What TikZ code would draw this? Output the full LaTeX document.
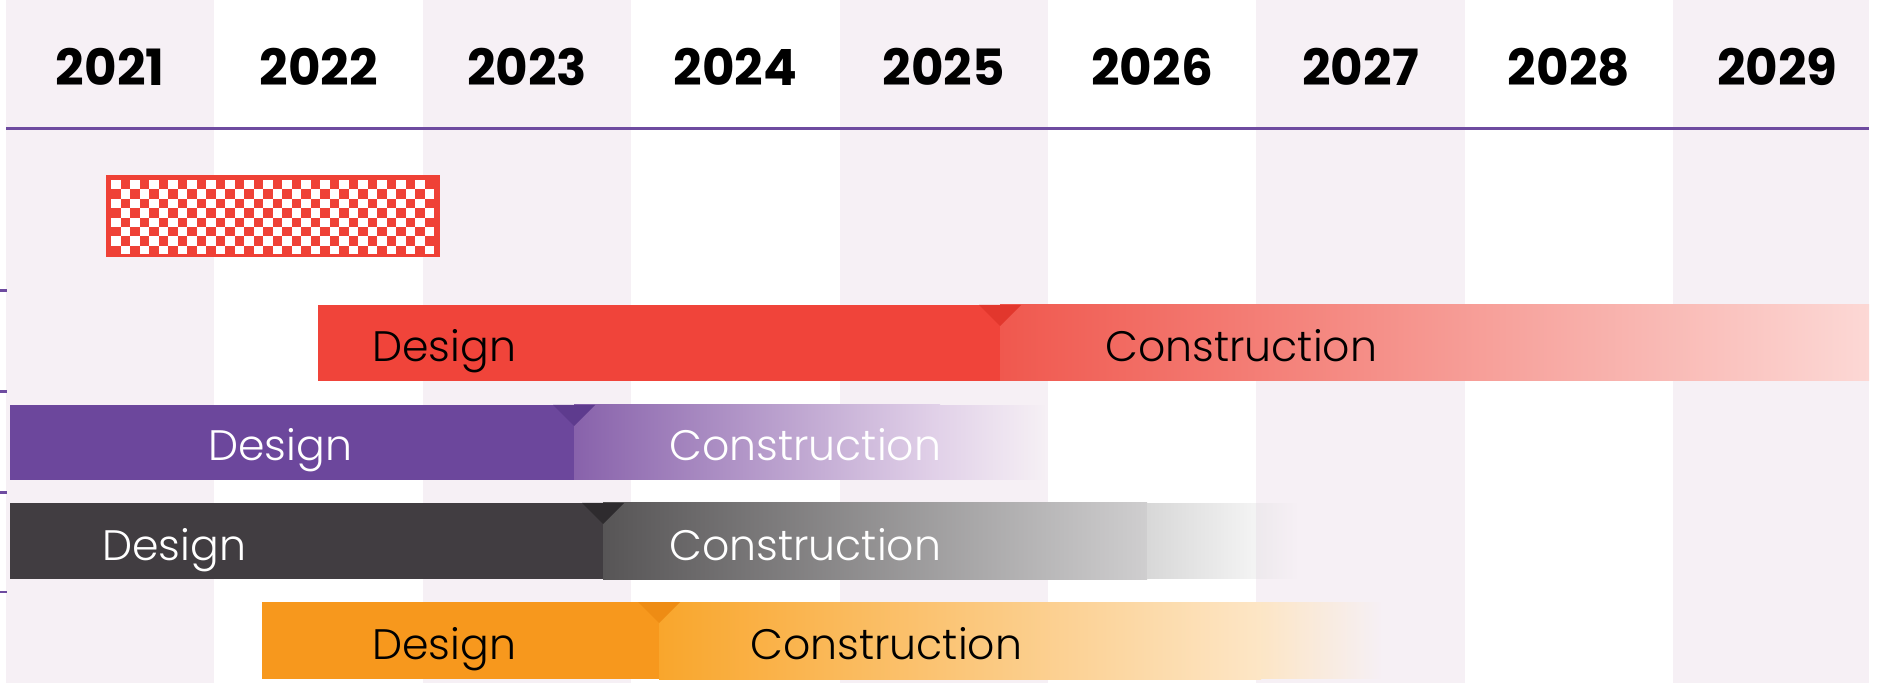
\documentclass[tikz,border=0pt]{standalone}
\usepackage{fontspec}
\setmainfont{Poppins}
\newfontfamily\lightfont{Poppins Light}
\usetikzlibrary{fadings}
\definecolor{colbg}{HTML}{F6F0F5}
\definecolor{hdrline}{HTML}{6E4BA0}
\definecolor{chkred}{HTML}{EF4136}
\definecolor{redD}{HTML}{F0443A}
\definecolor{redN}{HTML}{E2372D}
\definecolor{redC1}{HTML}{F0584E}
\definecolor{redC2}{HTML}{FCD8D5}
\definecolor{purD}{HTML}{6C479C}
\definecolor{purN}{HTML}{5E3B8E}
\definecolor{purC1}{HTML}{8862AB}
\definecolor{purC2}{HTML}{E2D2E9}
\definecolor{gryD}{HTML}{413D41}
\definecolor{gryN}{HTML}{2E2B2E}
\definecolor{gryC1}{HTML}{575556}
\definecolor{gryC2}{HTML}{CFCECF}
\definecolor{gryC3}{HTML}{D8D8D8}
\definecolor{orgD}{HTML}{F7981D}
\definecolor{orgN}{HTML}{EE8C14}
\definecolor{orgC1}{HTML}{F9A62C}
\definecolor{orgC2}{HTML}{FDE6C6}
\tikzfading[name=fadeout, left color=transparent!0, right color=transparent!100]
\tikzset{
  yearlabel/.style={font=\bfseries\fontsize{25}{30}\selectfont, inner sep=0pt, anchor=center},
  bartext/.style={font=\lightfont\fontsize{21.3}{26}\selectfont, inner sep=0pt, anchor=base west},
  hdr/.style={draw=hdrline, line width=1.3pt},
  tickmark/.style={draw=hdrline, line width=1.2pt},
}
\begin{document}
\begin{tikzpicture}[x=0.5pt,y=-0.5pt]
\useasboundingbox (0,0) rectangle (1883,683);
\fill[white] (0,0) rectangle (1883,683);
% alternating columns
\foreach \i in {0,2,4,6}{
  \fill[colbg] ({6+208.4*\i},0) rectangle ({6+208.4*(\i+1)},683);
}
\fill[colbg] (1673,0) rectangle (1869,683);
% years
\foreach \yr [count=\i from 0] in {2021,2022,2023,2024,2025,2026,2027,2028,2029}{
  \node[yearlabel] (y\yr) at ({110.2+208.4*\i},67) {\yr};
}
% header line
\coordinate (hl) at (6,128.5);
\coordinate (hr) at (1869,128.5);
\draw[hdr] (hl) -- (hr);
% left ticks
\foreach \t [count=\k] in {290.6,391.5,492.4,592}{
  \coordinate (ta\k) at (0,\t);
  \coordinate (tb\k) at (7,\t);
  \draw[tickmark] (ta\k) -- (tb\k);
}
% checkered box
\fill[chkred] (106,175) rectangle (440,257);
\begin{scope}
\clip (111,180) rectangle (435,254);
\foreach \c in {0,...,33}{
  \foreach \r in {0,...,7}{
    \ifodd\numexpr\c+\r\relax\else
      \fill[white] ({111+9.5*\c},{180+9.4*\r}) rectangle ({111+9.5*\c+9.5},{180+9.4*\r+9.4});
    \fi
  }
}
\end{scope}
% red bar
\fill[redD] (318,305) rectangle (1000,381);
\shade[left color=redC1, right color=redC2] (1000,305) rectangle (1869,381);
\fill[redN] (979,305) -- (1021,305) -- (1000,326) -- cycle;
\node[bartext, text=black] (rd) at (372,362) {Design};
\node[bartext, text=black] (rc) at (1105,362) {Construction};
% purple bar
\fill[purD] (9.6,405) rectangle (574,480);
\shade[left color=purC1, right color=purC2] (574,405) rectangle (940,480);
\fill[purC2, path fading=fadeout] (939.5,405) rectangle (1045,480);
\fill[purN] (553,405) -- (595,405) -- (574,426) -- cycle;
\node[bartext, text=white] (pd) at (208,461) {Design};
\node[bartext, text=white] (pc) at (669,461) {Construction};
% gray bar
\fill[gryD] (9.6,503) rectangle (603,579);
\shade[left color=gryC1, right color=gryC2] (603,503) rectangle (1147,579);
\fill[gryC3, path fading=fadeout] (1147,503) rectangle (1297,579);
\fill[gryN] (582,503) -- (624,503) -- (603,524) -- cycle;
\node[bartext, text=white] (gd) at (102,560) {Design};
\node[bartext, text=white] (gc) at (669,560) {Construction};
% orange bar
\fill[orgD] (262,602) rectangle (659,679);
\shade[left color=orgC1, right color=orgC2] (659,602) rectangle (1261,679);
\fill[orgC2, path fading=fadeout] (1260.5,602) rectangle (1381,679);
\fill[orgN] (638,602) -- (680,602) -- (659,623) -- cycle;
\node[bartext, text=black] (od) at (372,659) {Design};
\node[bartext, text=black] (oc) at (750,659) {Construction};
\end{tikzpicture}
\end{document}
